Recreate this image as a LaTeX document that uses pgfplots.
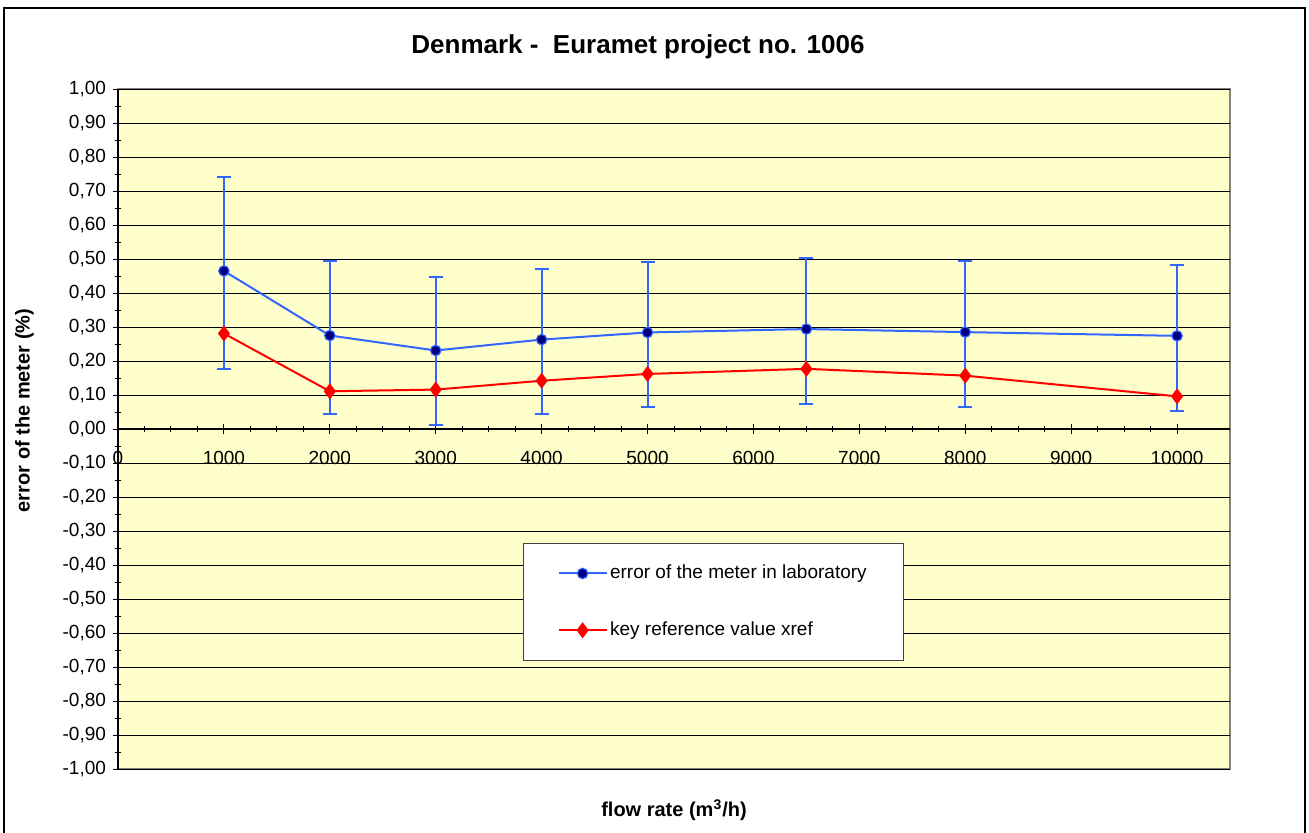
\documentclass[border=0pt]{standalone}
\usepackage{fontspec}
\setmainfont{Liberation Sans}
\usepackage{pgfplots}
\pgfplotsset{compat=1.18}

\definecolor{plotbg}{HTML}{FFFFCC}
\definecolor{labblue}{HTML}{3366FF}
\definecolor{markblue}{HTML}{000080}
\definecolor{xrefred}{HTML}{FF0000}

\begin{document}
\begin{tikzpicture}
% page: 1309 x 832 px at 0.5pt per px
\path[use as bounding box] (0,0) rectangle (654.5pt,-416pt);
\draw[black, line width=0.8pt] (2pt,-420pt) -- (2pt,-4pt) -- (652.5pt,-4pt) -- (652.5pt,-420pt);

\node[anchor=base, font=\bfseries\fontsize{13}{15}\selectfont] at (319pt,-26.5pt)
  {Denmark -\ \ Euramet project no. 1006};
\node[anchor=base, font=\bfseries\fontsize{10}{12}\selectfont] at (337pt,-408.3pt)
  {flow rate (m\textsuperscript{3}/h)};
\node[rotate=90, font=\bfseries\fontsize{10}{12}\selectfont] at (12.25pt,-205.25pt)
  {error of the meter (\%)};

\begin{axis}[
  at={(59pt,-44.5pt)}, anchor=north west,
  scale only axis, width=556pt, height=340pt,
  xmin=0, xmax=10500, ymin=-1, ymax=1,
  axis x line*=middle, axis y line*=left,
  hide obscured x ticks=false, hide obscured y ticks=false,
  axis background/.style={fill=plotbg, draw=black!50, line width=0.6pt},
  axis line style={black, line width=0.6pt},
  xtick={0,1000,...,10000}, minor x tick num=3,
  scaled x ticks=false, scaled y ticks=false,
  ytick distance=0.1, minor y tick num=1,
  tick align=center, major tick length=5pt, minor tick length=3pt,
  tick style={black, line width=0.5pt},
  ymajorgrids, major grid style={black, line width=0.5pt},
  /pgf/number format/assume math mode=true,
  tick label style={font=\fontsize{9.5}{11}\selectfont},
  xticklabel style={yshift=-5pt, /pgf/number format/.cd, fixed, precision=0, 1000 sep={}},
  yticklabel style={/pgf/number format/.cd, fixed, fixed zerofill, precision=2, use comma},
  clip=false,
  legend cell align=left,
  legend image code/.code={\draw[mark repeat=2, mark phase=2] plot coordinates {(0pt,0pt) (12pt,0pt) (24pt,0pt)};},
  legend style={at={(0.3642,0.3324)}, anchor=north west, draw=black!75, fill=white,
    line width=0.6pt, font=\fontsize{9.5}{11}\selectfont,
    inner xsep=17pt, inner ysep=9.5pt, row sep=17.5pt, nodes={inner sep=1.25pt}},
]
\addplot[labblue, line width=1pt, mark=*, mark size=2.6pt,
  mark options={fill=markblue, draw=labblue, line width=0.6pt},
  error bars/.cd, y dir=both, y explicit,
  error bar style={labblue, line width=1pt},
  error mark options={rotate=90, mark size=3.5pt, labblue, line width=1pt}]
coordinates {
  (1000,0.465)  += (0,0.275) -= (0,0.288)
  (2000,0.275)  += (0,0.218) -= (0,0.230)
  (3000,0.231)  += (0,0.216) -= (0,0.218)
  (4000,0.263)  += (0,0.209) -= (0,0.218)
  (5000,0.284)  += (0,0.208) -= (0,0.219)
  (6500,0.294)  += (0,0.208) -= (0,0.219)
  (8000,0.285)  += (0,0.208) -= (0,0.220)
  (10000,0.274) += (0,0.209) -= (0,0.220)
};
\addlegendentry{error of the meter in laboratory}

\addplot[xrefred, line width=1pt, mark=diamond*, mark size=3.2pt,
  mark options={fill=xrefred, draw=xrefred}]
coordinates {
  (1000,0.281) (2000,0.111) (3000,0.116) (4000,0.142)
  (5000,0.162) (6500,0.177) (8000,0.157) (10000,0.096)
};
\addlegendentry{key reference value xref}
\end{axis}
\end{tikzpicture}
\end{document}
